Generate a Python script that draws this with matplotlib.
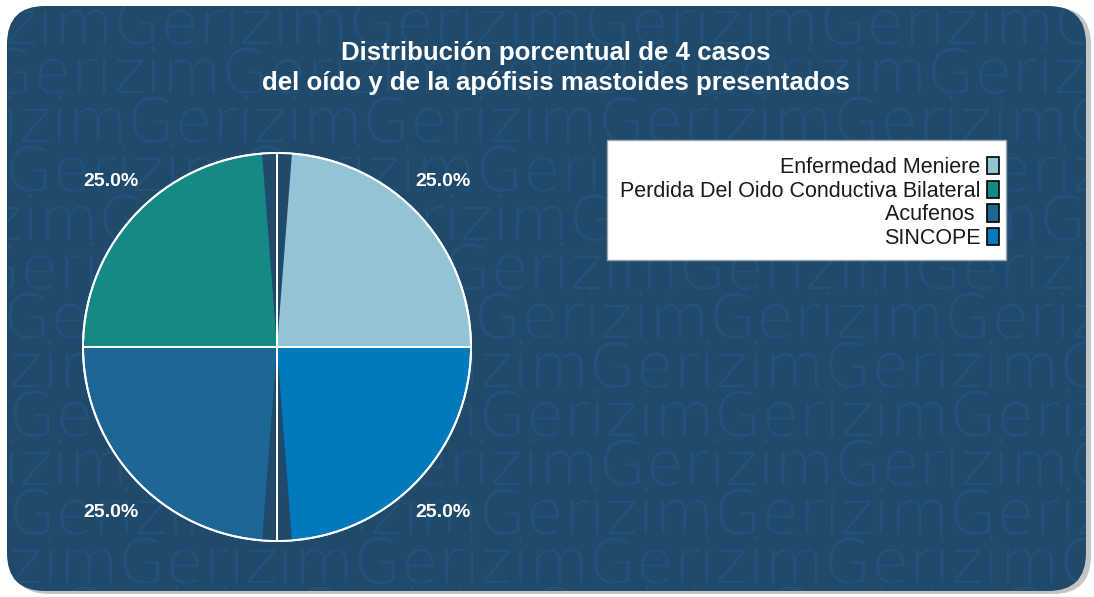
import numpy as np
import matplotlib
matplotlib.use("Agg")
import matplotlib.pyplot as plt
from matplotlib.patches import FancyBboxPatch, Wedge, Patch, Rectangle, PathPatch
from matplotlib.textpath import TextPath
from matplotlib.font_manager import FontProperties

# data
categories = ['Enfermedad Meniere', 'Perdida Del Oido Conductiva Bilateral', 'Acufenos ', 'SINCOPE']
casos = [1, 1, 1, 1]
colores = ['#93c4d5', '#148985', '#1c6795', '#0079bd']
titulo = 'Distribución porcentual de 4 casos\ndel oído y de la apófisis mastoides presentados'

W, H = 1094, 597
bg = '#1f4a6b'
wm_color = '#245176'

fig = plt.figure(figsize=(W / 100, H / 100), dpi=100)
fig.patch.set_facecolor('white')

# background panel (pixel coordinates)
bgax = fig.add_axes([0, 0, 1, 1])
bgax.set_xlim(0, W)
bgax.set_ylim(0, H)
bgax.axis('off')

shadow = FancyBboxPatch((11, 3), W - 14, H - 10, boxstyle='round,pad=0,rounding_size=38',
                        facecolor='#8a8a8a', edgecolor='none', alpha=0.5)
bgax.add_patch(shadow)
panel = FancyBboxPatch((7, 6), W - 15, H - 12, boxstyle='round,pad=0,rounding_size=38',
                       facecolor=bg, edgecolor='none')
bgax.add_patch(panel)

# watermark rows (as paths so they can be clipped to the panel)
wm_font = FontProperties(family='DejaVu Sans', weight='light')
wm_rows = np.arange(H - 22, -40, -49)
wm_phase = [115, 223, 129, 7, 100, 210, 5, 120, 10, 130, 10, 120, 60]
for i, yy in enumerate(wm_rows):
    x0 = wm_phase[i % len(wm_phase)] - 2 * 236
    tp = TextPath((x0, yy - 22), 'Gerizim' * 8, size=61, prop=wm_font)
    pp = PathPatch(tp, facecolor=wm_color, edgecolor='none')
    bgax.add_patch(pp)
    pp.set_clip_path(panel)

# title
fig.text(556 / W, 1 - 68 / H, titulo, ha='center', va='center', color='white',
         fontsize=18.6, fontweight='bold', family='Liberation Sans', linespacing=1.35)

# pie
cx, cy, r = 277, 347, 194
ax = fig.add_axes([(cx - r) / W, (H - cy - r) / H, 2 * r / W, 2 * r / H])
wedges, _, autotexts = ax.pie(casos, colors=colores, startangle=0, counterclock=True,
                              autopct='%1.1f%%', pctdistance=1.21,
                              wedgeprops=dict(edgecolor='white', linewidth=1.4),
                              textprops=dict(color='white', fontsize=14, fontweight='bold',
                                             family='Liberation Sans'))
# thin gaps at the top and bottom joins
half = np.degrees(np.arctan(15 / r))
for ang in (90, 270):
    ax.add_patch(Wedge((0, 0), 1, ang - half, ang + half, facecolor=bg, edgecolor='none', zorder=2))
ax.pie(casos, colors=['none'] * len(casos), startangle=0, counterclock=True,
       wedgeprops=dict(edgecolor='white', linewidth=1.4, zorder=3))
ax.set_xlim(-1, 1)
ax.set_ylim(-1, 1)
ax.set_aspect('equal')
ax.axis('off')

# legend box and entries
bgax.add_patch(Rectangle((607, H - 260), 399, 120, facecolor='white', edgecolor='#9aa6b0', linewidth=1.0))
handles = [Patch(facecolor=c, edgecolor='black', linewidth=1.2) for c in colores]
leg = fig.legend(handles, categories, loc='upper right', bbox_to_anchor=(999 / W, 1 - 157 / H),
                 markerfirst=False, frameon=False, labelcolor='#1a1a1a',
                 prop=dict(family='Liberation Sans', size=15.5),
                 handlelength=0.55, handleheight=0.85, handletextpad=0.3,
                 labelspacing=0.125, borderpad=0, borderaxespad=0)

fig.savefig('out.png', dpi=100, facecolor='white')
